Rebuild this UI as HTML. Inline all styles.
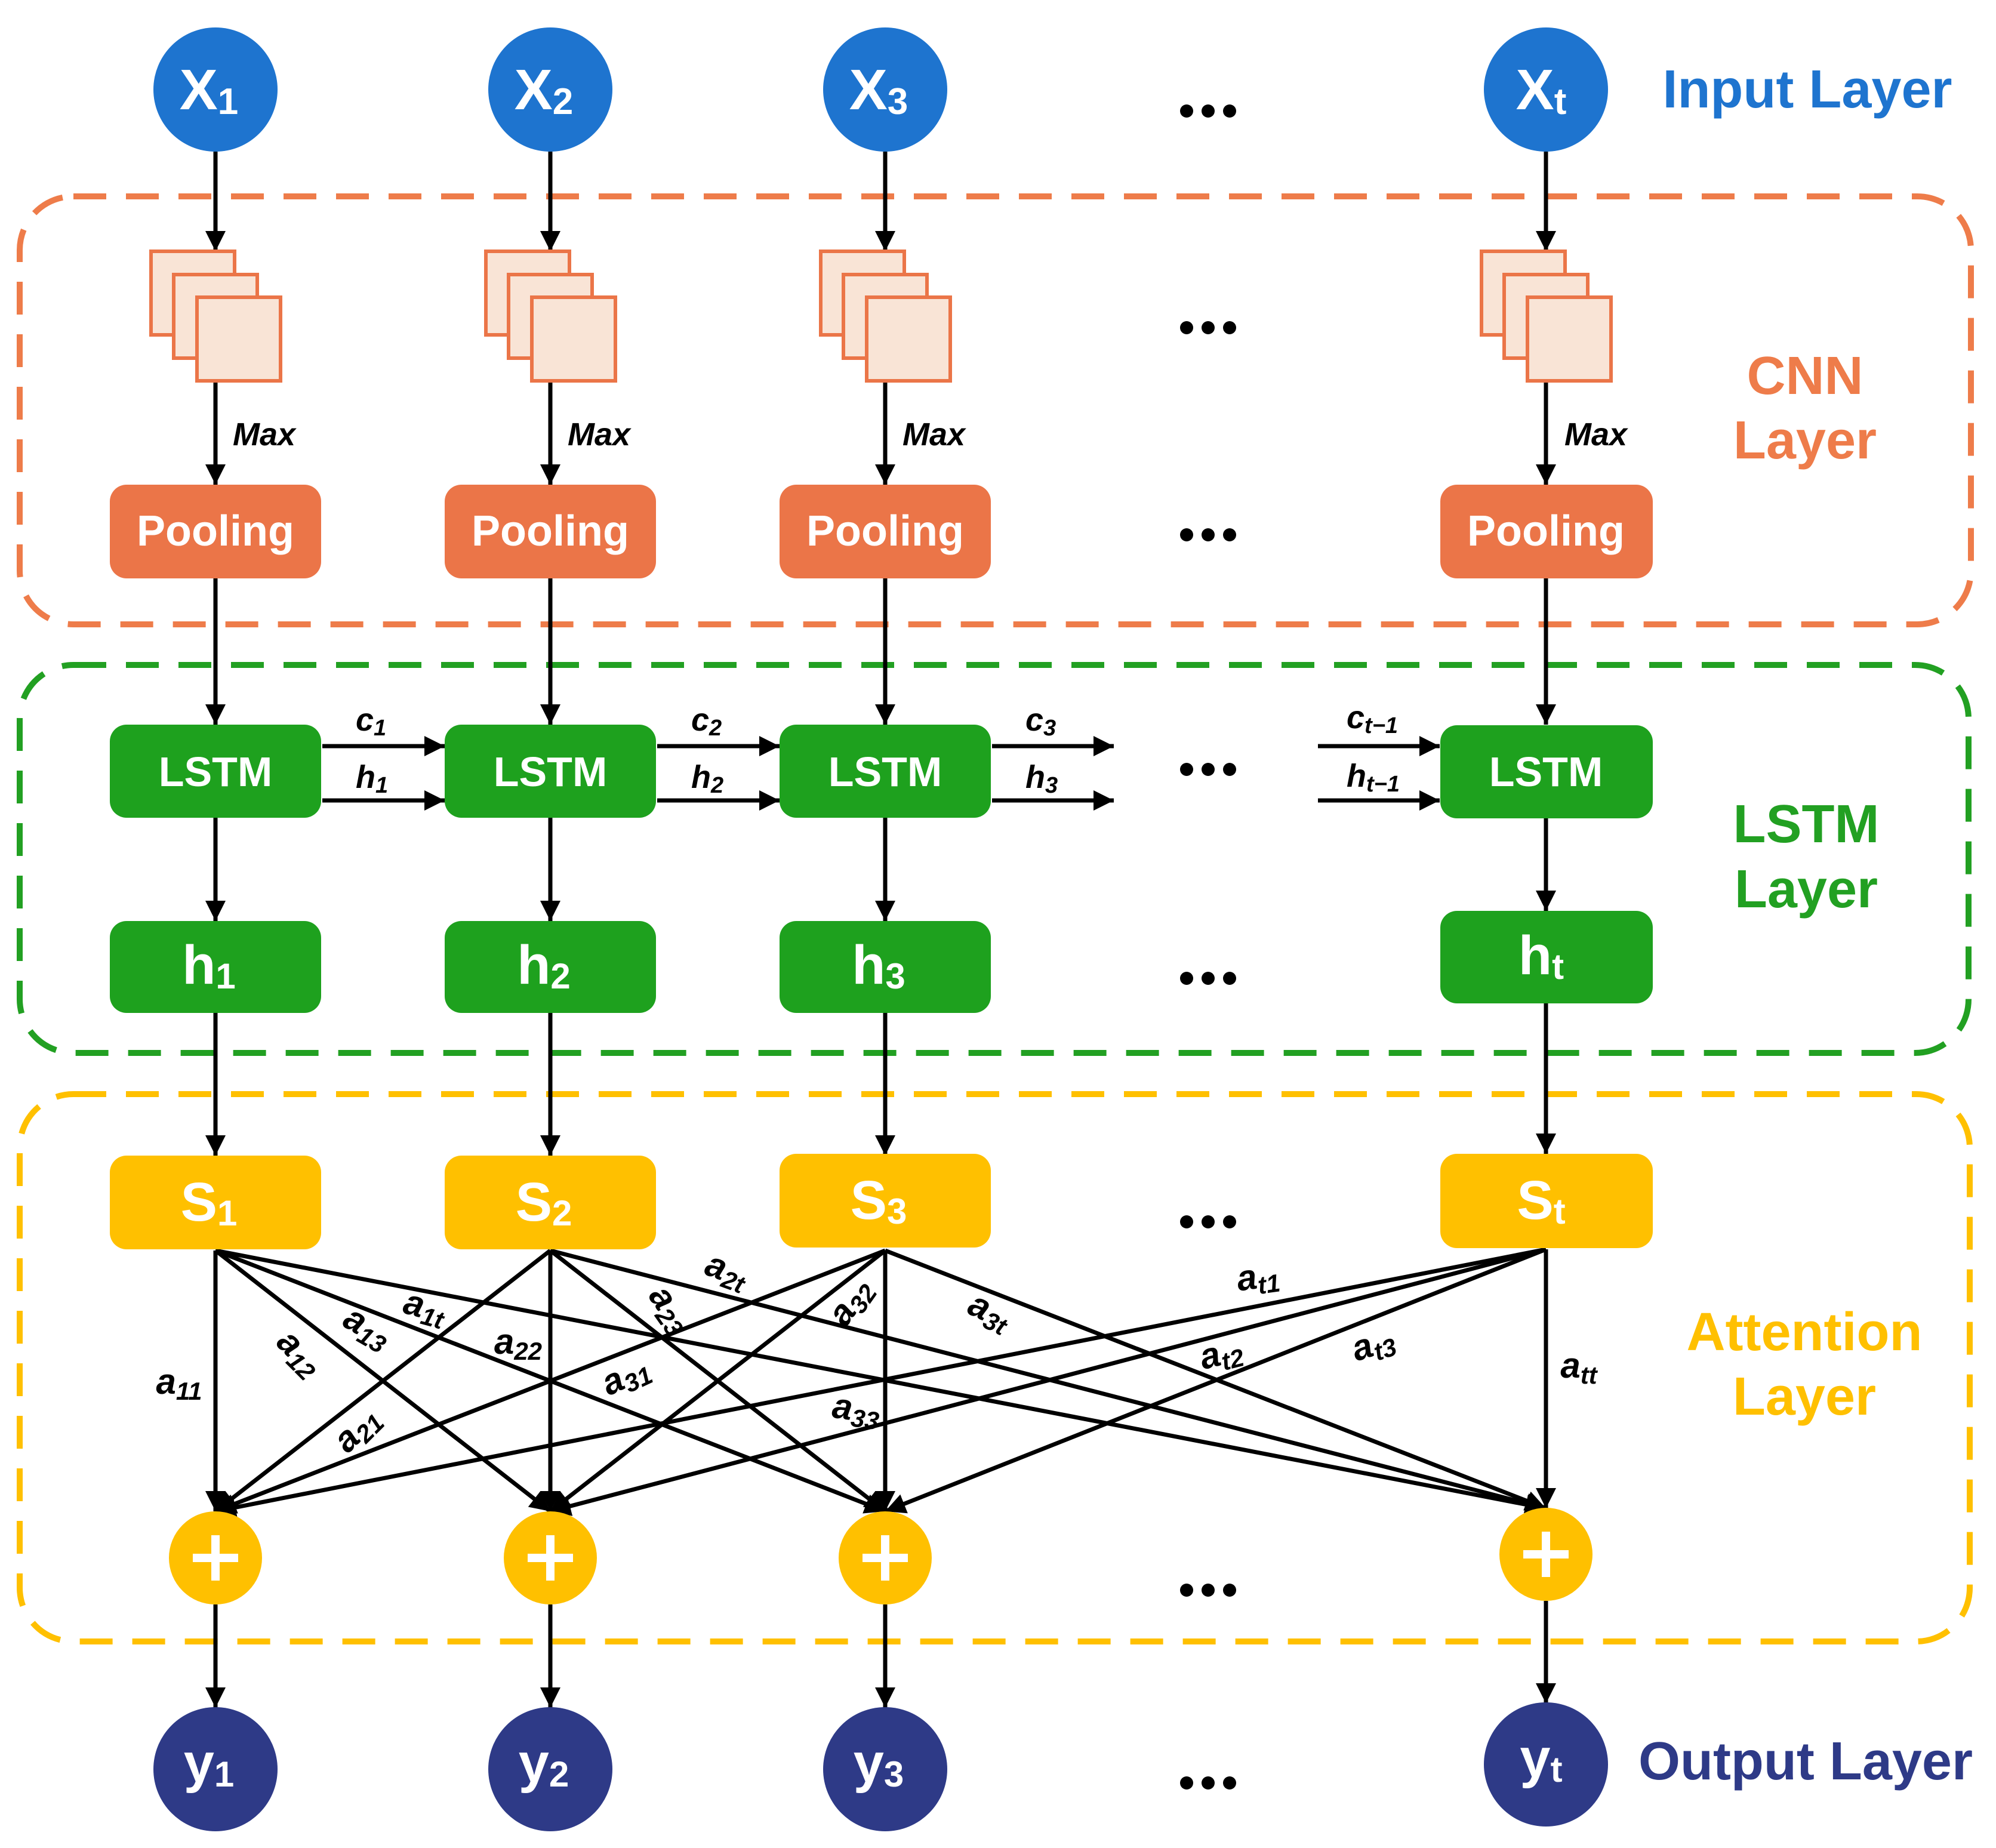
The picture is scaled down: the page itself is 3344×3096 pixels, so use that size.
<!DOCTYPE html>
<html><head><meta charset="utf-8"><style>
html,body{margin:0;padding:0;background:#fff;}
svg{display:block;}
text{font-family:"Liberation Sans",Arial,sans-serif;font-weight:bold;}
</style></head><body>
<svg width="3344" height="3096" viewBox="0 0 3344 3096" xmlns="http://www.w3.org/2000/svg">
<defs>
<marker id="ah" markerUnits="userSpaceOnUse" markerWidth="40" markerHeight="40" refX="34" refY="17" orient="auto">
<path d="M0,0 L34,17 L0,34 Z" fill="#000"/>
</marker>
<g id="dots"><circle cx="-36" cy="0" r="11"/><circle cx="0" cy="0" r="11"/><circle cx="36" cy="0" r="11"/></g>
</defs>

<!-- dashed group boxes -->
<rect x="33" y="329" width="3269" height="717" rx="90" fill="none" stroke="#EE7C4A" stroke-width="10" stroke-dasharray="55 33"/>
<rect x="33" y="1114" width="3265" height="650" rx="90" fill="none" stroke="#22A022" stroke-width="10" stroke-dasharray="55 33"/>
<rect x="33" y="1833" width="3267" height="917" rx="90" fill="none" stroke="#FFC000" stroke-width="10" stroke-dasharray="55 33"/>

<g stroke="#000" stroke-width="7" fill="none" marker-end="url(#ah)">
<line x1="361" y1="254" x2="361" y2="421"/><line x1="922" y1="254" x2="922" y2="421"/><line x1="1483" y1="254" x2="1483" y2="421"/><line x1="2590" y1="254" x2="2590" y2="421"/>
<line x1="361" y1="638" x2="361" y2="812"/><line x1="922" y1="638" x2="922" y2="812"/><line x1="1483" y1="638" x2="1483" y2="812"/><line x1="2590" y1="638" x2="2590" y2="812"/>
<line x1="361" y1="969" x2="361" y2="1214"/><line x1="922" y1="969" x2="922" y2="1214"/><line x1="1483" y1="969" x2="1483" y2="1214"/><line x1="2590" y1="969" x2="2590" y2="1214"/>
<line x1="361" y1="1370" x2="361" y2="1543"/><line x1="922" y1="1370" x2="922" y2="1543"/><line x1="1483" y1="1370" x2="1483" y2="1543"/><line x1="2590" y1="1370" x2="2590" y2="1526"/>
<line x1="361" y1="1697" x2="361" y2="1936"/><line x1="922" y1="1697" x2="922" y2="1936"/><line x1="1483" y1="1697" x2="1483" y2="1936"/><line x1="2590" y1="1681" x2="2590" y2="1933"/>
<line x1="361" y1="2688" x2="361" y2="2861"/><line x1="922" y1="2688" x2="922" y2="2861"/><line x1="1483" y1="2688" x2="1483" y2="2861"/><line x1="2590" y1="2682" x2="2590" y2="2854"/>
<line x1="540" y1="1250" x2="745" y2="1250"/><line x1="540" y1="1341" x2="745" y2="1341"/>
<line x1="1101" y1="1250" x2="1306" y2="1250"/><line x1="1101" y1="1341" x2="1306" y2="1341"/>
<line x1="1662" y1="1250" x2="1866" y2="1250"/><line x1="1662" y1="1341" x2="1866" y2="1341"/>
<line x1="2208" y1="1250" x2="2412" y2="1250"/><line x1="2208" y1="1341" x2="2412" y2="1341"/>
<!-- attention lines -->
<line x1="361" y1="2095" x2="361" y2="2532"/>
<line x1="361" y1="2095" x2="922" y2="2532"/>
<line x1="361" y1="2095" x2="1483" y2="2532"/>
<line x1="361" y1="2095" x2="2590" y2="2527"/>
<line x1="922" y1="2095" x2="361" y2="2532"/>
<line x1="922" y1="2095" x2="922" y2="2532"/>
<line x1="922" y1="2095" x2="1483" y2="2532"/>
<line x1="922" y1="2095" x2="2590" y2="2527"/>
<line x1="1483" y1="2095" x2="361" y2="2532"/>
<line x1="1483" y1="2095" x2="922" y2="2532"/>
<line x1="1483" y1="2095" x2="1483" y2="2532"/>
<line x1="1483" y1="2095" x2="2590" y2="2527"/>
<line x1="2590" y1="2093" x2="361" y2="2532"/>
<line x1="2590" y1="2093" x2="922" y2="2532"/>
<line x1="2590" y1="2093" x2="1483" y2="2532"/>
<line x1="2590" y1="2093" x2="2590" y2="2527"/>
</g>

<g fill="#1E74CF">
<circle cx="361" cy="150" r="104"/><circle cx="922" cy="150" r="104"/><circle cx="1483" cy="150" r="104"/><circle cx="2590" cy="150" r="104"/>
</g>
<g fill="#fff" font-size="96" text-anchor="middle">
<text x="350" y="183">X<tspan font-size="62" dy="8">1</tspan></text>
<text x="911" y="183">X<tspan font-size="62" dy="8">2</tspan></text>
<text x="1472" y="183">X<tspan font-size="62" dy="8">3</tspan></text>
<text x="2582" y="183">X<tspan font-size="62" dy="8">t</tspan></text>
</g>

<g fill="#F9E4D6" stroke="#EB7548" stroke-width="6">
<rect x="253" y="421" width="140" height="140"/><rect x="291" y="460" width="140" height="140"/><rect x="330" y="498" width="140" height="140"/>
<rect x="814" y="421" width="140" height="140"/><rect x="852" y="460" width="140" height="140"/><rect x="891" y="498" width="140" height="140"/>
<rect x="1375" y="421" width="140" height="140"/><rect x="1413" y="460" width="140" height="140"/><rect x="1452" y="498" width="140" height="140"/>
<rect x="2482" y="421" width="140" height="140"/><rect x="2520" y="460" width="140" height="140"/><rect x="2559" y="498" width="140" height="140"/>
</g>
<g font-size="54" font-style="italic" fill="#000">
<text x="390" y="746">Max</text><text x="951" y="746">Max</text><text x="1512" y="746">Max</text><text x="2621" y="746">Max</text>
</g>

<g fill="#EB7548">
<rect x="184" y="812" width="354" height="157" rx="28"/><rect x="745" y="812" width="354" height="157" rx="28"/><rect x="1306" y="812" width="354" height="157" rx="28"/><rect x="2413" y="812" width="356" height="157" rx="28"/>
</g>
<g fill="#fff" font-size="72" text-anchor="middle">
<text x="361" y="914">Pooling</text><text x="922" y="914">Pooling</text><text x="1483" y="914">Pooling</text><text x="2590" y="914">Pooling</text>
</g>

<g fill="#1EA11E">
<rect x="184" y="1214" width="354" height="156" rx="28"/><rect x="745" y="1214" width="354" height="156" rx="28"/><rect x="1306" y="1214" width="354" height="156" rx="28"/><rect x="2413" y="1215" width="356" height="156" rx="28"/>
<rect x="184" y="1543" width="354" height="154" rx="28"/><rect x="745" y="1543" width="354" height="154" rx="28"/><rect x="1306" y="1543" width="354" height="154" rx="28"/><rect x="2413" y="1526" width="356" height="155" rx="28"/>
</g>
<g fill="#fff" font-size="70" text-anchor="middle">
<text x="361" y="1317">LSTM</text><text x="922" y="1317">LSTM</text><text x="1483" y="1317">LSTM</text><text x="2590" y="1317">LSTM</text>
</g>
<g fill="#fff" font-size="92" text-anchor="middle">
<text x="350" y="1648">h<tspan font-size="60" dy="8">1</tspan></text>
<text x="911" y="1648">h<tspan font-size="60" dy="8">2</tspan></text>
<text x="1472" y="1648">h<tspan font-size="60" dy="8">3</tspan></text>
<text x="2582" y="1632">h<tspan font-size="60" dy="8">t</tspan></text>
</g>
<g fill="#000" font-size="54" font-style="italic">
<text x="596" y="1224">c<tspan font-size="38" dy="8">1</tspan></text>
<text x="596" y="1320">h<tspan font-size="38" dy="8">1</tspan></text>
<text x="1158" y="1224">c<tspan font-size="38" dy="8">2</tspan></text>
<text x="1158" y="1320">h<tspan font-size="38" dy="8">2</tspan></text>
<text x="1718" y="1224">c<tspan font-size="38" dy="8">3</tspan></text>
<text x="1718" y="1320">h<tspan font-size="38" dy="8">3</tspan></text>
<text x="2256" y="1220">c<tspan font-size="38" dy="8">t−1</tspan></text>
<text x="2256" y="1318">h<tspan font-size="38" dy="8">t−1</tspan></text>
</g>

<g fill="#FFC000">
<rect x="184" y="1936" width="354" height="157" rx="28"/><rect x="745" y="1936" width="354" height="157" rx="28"/><rect x="1306" y="1933" width="354" height="157" rx="28"/><rect x="2413" y="1933" width="356" height="158" rx="28"/>
</g>
<g fill="#fff" font-size="92" text-anchor="middle">
<text x="350" y="2045">S<tspan font-size="60" dy="8">1</tspan></text>
<text x="911" y="2045">S<tspan font-size="60" dy="8">2</tspan></text>
<text x="1472" y="2042">S<tspan font-size="60" dy="8">3</tspan></text>
<text x="2582" y="2042">S<tspan font-size="60" dy="8">t</tspan></text>
</g>

<g fill="#FFC000">
<circle cx="361" cy="2610" r="78"/><circle cx="922" cy="2610" r="78"/><circle cx="1483" cy="2610" r="78"/><circle cx="2590" cy="2604" r="78"/>
</g>
<g stroke="#fff" stroke-width="14">
<line x1="323" y1="2610" x2="399" y2="2610"/><line x1="361" y1="2572" x2="361" y2="2648"/>
<line x1="884" y1="2610" x2="960" y2="2610"/><line x1="922" y1="2572" x2="922" y2="2648"/>
<line x1="1445" y1="2610" x2="1521" y2="2610"/><line x1="1483" y1="2572" x2="1483" y2="2648"/>
<line x1="2552" y1="2604" x2="2628" y2="2604"/><line x1="2590" y1="2566" x2="2590" y2="2642"/>
</g>

<g fill="#2E3A87">
<circle cx="361" cy="2964" r="104"/><circle cx="922" cy="2964" r="104"/><circle cx="1483" cy="2964" r="104"/><circle cx="2590" cy="2956" r="104"/>
</g>
<g fill="#fff" font-size="92" text-anchor="middle">
<text x="350" y="2985">y<tspan font-size="60" dy="8">1</tspan></text>
<text x="911" y="2985">y<tspan font-size="60" dy="8">2</tspan></text>
<text x="1472" y="2985">y<tspan font-size="60" dy="8">3</tspan></text>
<text x="2582" y="2977">y<tspan font-size="60" dy="8">t</tspan></text>
</g>

<g fill="#000" font-size="60" font-style="italic" text-anchor="middle">
<text transform="translate(300,2335)">a<tspan font-size="42" dy="10">11</tspan></text>
<text transform="translate(489,2280) rotate(45)">a<tspan font-size="42" dy="10">12</tspan></text>
<text transform="translate(606,2240) rotate(30)">a<tspan font-size="42" dy="10">13</tspan></text>
<text transform="translate(707,2208) rotate(15)">a<tspan font-size="42" dy="10">1t</tspan></text>
<text transform="translate(611,2408) rotate(-45)">a<tspan font-size="42" dy="10">21</tspan></text>
<text transform="translate(868,2268)">a<tspan font-size="42" dy="10">22</tspan></text>
<text transform="translate(1108,2204) rotate(55)">a<tspan font-size="42" dy="10">23</tspan></text>
<text transform="translate(1211,2146) rotate(20)">a<tspan font-size="42" dy="10">2t</tspan></text>
<text transform="translate(1056,2322) rotate(-25)">a<tspan font-size="42" dy="10">31</tspan></text>
<text transform="translate(1440,2192) rotate(-55)">a<tspan font-size="42" dy="10">32</tspan></text>
<text transform="translate(1432,2380) rotate(8)">a<tspan font-size="42" dy="10">33</tspan></text>
<text transform="translate(1650,2214) rotate(25)">a<tspan font-size="42" dy="10">3t</tspan></text>
<text transform="translate(2110,2158) rotate(-8)">a<tspan font-size="42" dy="10">t1</tspan></text>
<text transform="translate(2050,2286) rotate(-14)">a<tspan font-size="42" dy="10">t2</tspan></text>
<text transform="translate(2306,2270) rotate(-18)">a<tspan font-size="42" dy="10">t3</tspan></text>
<text transform="translate(2645,2308)">a<tspan font-size="42" dy="10">tt</tspan></text>
</g>

<g fill="#000">
<use href="#dots" x="2024" y="186"/><use href="#dots" x="2024" y="549"/><use href="#dots" x="2024" y="896"/><use href="#dots" x="2024" y="1289"/>
<use href="#dots" x="2024" y="1639"/><use href="#dots" x="2024" y="2047"/><use href="#dots" x="2024" y="2664"/><use href="#dots" x="2024" y="2987"/>
</g>

<g font-size="90" text-anchor="middle">
<text x="3028" y="180" fill="#1E74CF">Input Layer</text>
<text x="3024" y="660" fill="#EE7C4A">CNN</text><text x="3024" y="768" fill="#EE7C4A">Layer</text>
<text x="3026" y="1411" fill="#22A022">LSTM</text><text x="3026" y="1520" fill="#22A022">Layer</text>
<text x="3023" y="2262" fill="#FFC000">Attention</text><text x="3023" y="2370" fill="#FFC000">Layer</text>
<text x="3025" y="2981" fill="#2E3A87">Output Layer</text>
</g>
</svg>
</body></html>
